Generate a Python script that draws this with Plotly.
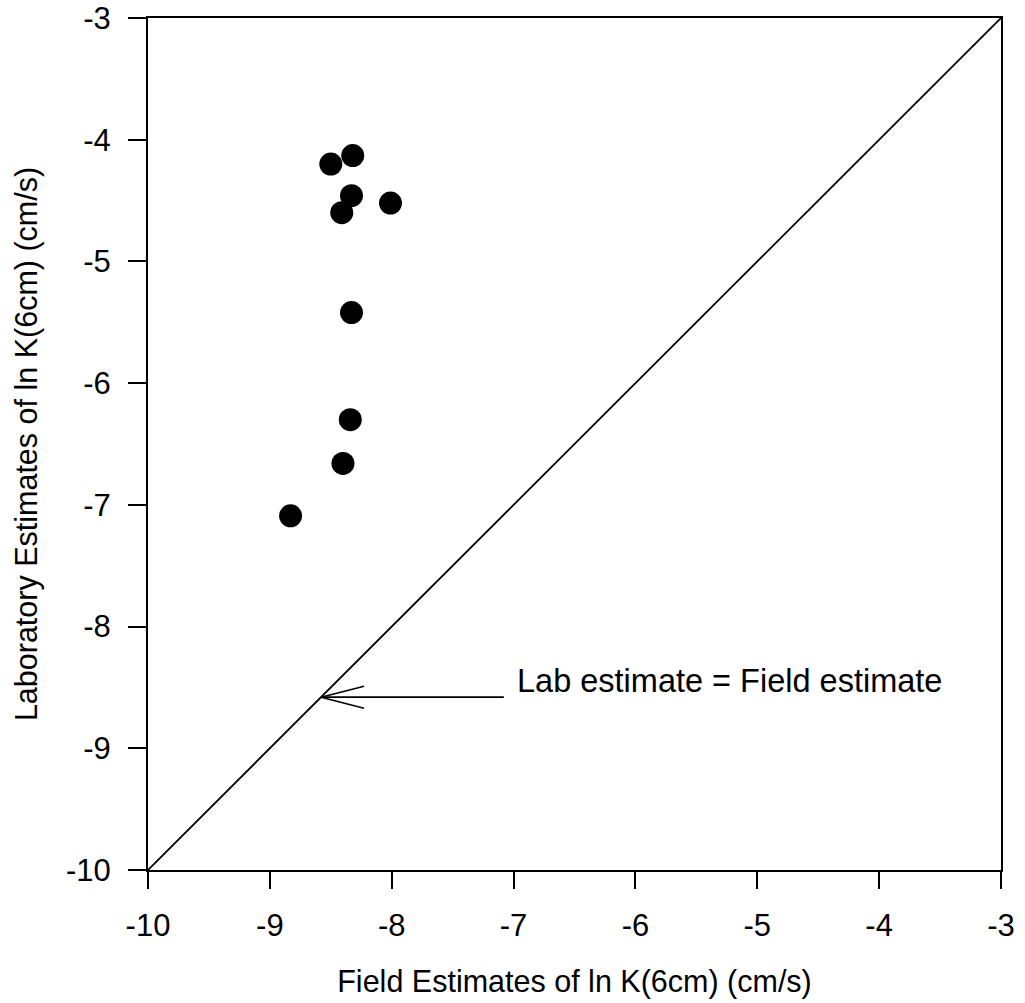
import plotly.graph_objects as go

# Data
field_ln_k = [-8.50, -8.32, -8.33, -8.41, -8.01, -8.33, -8.34, -8.40, -8.83]
lab_ln_k = [-4.20, -4.13, -4.46, -4.60, -4.52, -5.42, -6.30, -6.66, -7.09]

axis_range = [-10, -3]
tick_vals = [-10, -9, -8, -7, -6, -5, -4, -3]
tick_text = ["-10", "-9", "-8", "-7", "-6", "-5", "-4", "-3"]

# 1:1 line
one_to_one = [-10, -3]

# Annotation
arrow_tip = -8.58          # point on the 1:1 line the arrow touches
arrow_tail_x = -7.08
label_text = "Lab estimate = Field estimate"
label_x = -6.99
label_y = -8.45

FONT = "Liberation Sans, Arial, Helvetica, sans-serif"

fig = go.Figure()

fig.add_trace(go.Scatter(
    x=one_to_one, y=one_to_one, mode="lines",
    line=dict(color="black", width=1.8), showlegend=False, hoverinfo="skip",
))

fig.add_trace(go.Scatter(
    x=field_ln_k, y=lab_ln_k, mode="markers",
    marker=dict(color="black", size=23, line=dict(width=0)),
    showlegend=False,
))

shapes = [
    dict(type="line", xref="x", yref="y",
         x0=arrow_tip, y0=arrow_tip, x1=arrow_tail_x, y1=arrow_tip,
         line=dict(color="black", width=1.6)),
]
for sgn in (1, -1):
    shapes.append(dict(
        type="line", xref="x", yref="y",
        xsizemode="pixel", xanchor=arrow_tip, x0=0, x1=43,
        ysizemode="pixel", yanchor=arrow_tip, y0=0, y1=11 * sgn,
        line=dict(color="black", width=1.6),
    ))

fig.update_layout(
    width=1025, height=1003,
    margin=dict(l=148, r=24, t=18, b=133),
    paper_bgcolor="white", plot_bgcolor="white",
    font=dict(family=FONT, size=31, color="black"),
    shapes=shapes,
    annotations=[dict(
        x=label_x, y=label_y, xref="x", yref="y", text=label_text,
        showarrow=False, xanchor="left", yanchor="middle",
        font=dict(family=FONT, size=32.5, color="black"),
    )],
)

fig.update_xaxes(
    range=axis_range, tickvals=tick_vals, ticktext=tick_text,
    showgrid=False, zeroline=False, automargin=False,
    showline=True, linecolor="black", linewidth=2, mirror=True,
    ticks="outside", ticklen=17, tickwidth=2, tickcolor="black",
    ticklabelstandoff=10, ticklabeloverflow="allow",
    tickfont=dict(family=FONT, size=31, color="black"),
    title=dict(text="Field Estimates of ln K(6cm) (cm/s)",
               font=dict(family=FONT, size=30.5, color="black"), standoff=28),
)
fig.update_yaxes(
    range=axis_range, tickvals=tick_vals, ticktext=tick_text,
    showgrid=False, zeroline=False, automargin=False,
    showline=True, linecolor="black", linewidth=2, mirror=True,
    ticks="outside", ticklen=18, tickwidth=2, tickcolor="black",
    ticklabelstandoff=11, ticklabeloverflow="allow",
    tickfont=dict(family=FONT, size=31, color="black"),
    title=dict(text="Laboratory Estimates of ln K(6cm) (cm/s)",
               font=dict(family=FONT, size=30.5, color="black"), standoff=19),
)

# remove the default 8px page margin so the figure fills the window exactly
fig.write_html(
    "out.html",
    config={"displayModeBar": False},
    post_script="document.body.style.margin='0px';",
)
